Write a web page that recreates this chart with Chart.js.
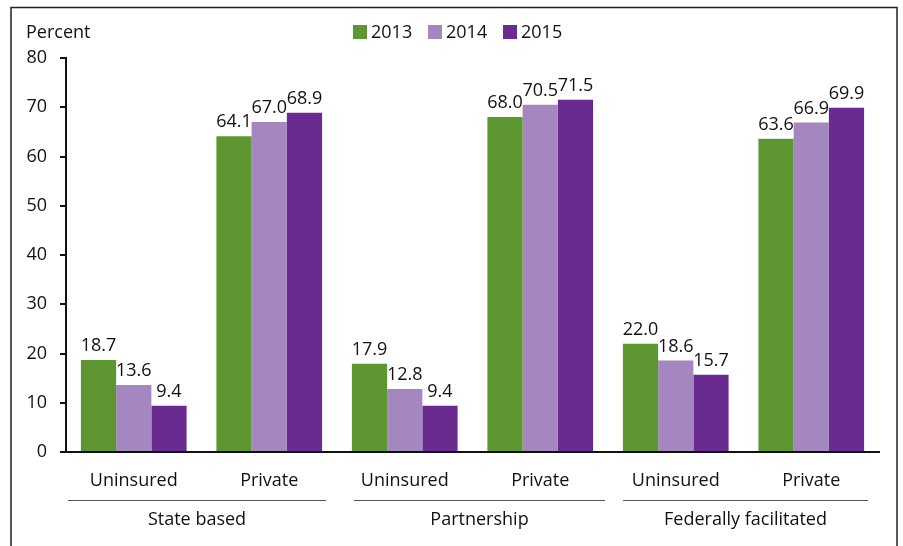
<!DOCTYPE html>
<html>
<head>
<meta charset="utf-8">
<script src="https://cdn.jsdelivr.net/npm/chart.js@4.4.1/dist/chart.umd.min.js"></script>
<style>
html,body{margin:0;padding:0;background:#fff;}
#wrap{position:relative;width:903px;height:546px;}
</style>
</head>
<body>
<div id="wrap"><canvas id="c" width="903" height="546"></canvas></div>
<script>
const categories = ["Uninsured", "Private", "Uninsured", "Private", "Uninsured", "Private"];
const groups = ["State based", "Partnership", "Federally facilitated"];
const seriesNames = ["2013", "2014", "2015"];
const values2013 = [18.7, 64.1, 17.9, 68.0, 22.0, 63.6];
const values2014 = [13.6, 67.0, 12.8, 70.5, 18.6, 66.9];
const values2015 = [9.4, 68.9, 9.4, 71.5, 15.7, 69.9];
const yTicks = [0, 10, 20, 30, 40, 50, 60, 70, 80];
const colors = ["#5E9732", "#A487BF", "#6A2B91"];

const FONT = "'Open Sans', 'DejaVu Sans', sans-serif";
const TXT = "#111";

const framePlugin = {
  id: "frame",
  beforeDraw(chart) {
    const ctx = chart.ctx;
    ctx.save();
    ctx.fillStyle = "#fff";
    ctx.fillRect(0, 0, chart.width, chart.height);
    ctx.strokeStyle = "#222";
    ctx.lineWidth = 1.5;
    ctx.strokeRect(11, 7.5, 886, 560);
    ctx.restore();
  }
};

const groupInsetL = [2, 17, 15];
const groupInsetR = [11, 3, 11];

const decorPlugin = {
  id: "decor",
  afterDraw(chart) {
    const ctx = chart.ctx;
    const x = chart.scales.x;
    ctx.save();
    ctx.font = "18px " + FONT;
    ctx.fillStyle = TXT;
    ctx.textAlign = "left";
    ctx.textBaseline = "middle";
    ctx.fillText("Percent", 26, 33);
    // legend
    let lx = 353;
    chart.data.datasets.forEach((ds) => {
      ctx.fillStyle = ds.backgroundColor;
      ctx.fillRect(lx, 25, 14, 14);
      ctx.fillStyle = TXT;
      ctx.fillText(ds.label, lx + 18, 33);
      lx += 75;
    });
    // data labels
    ctx.textAlign = "center";
    ctx.textBaseline = "bottom";
    chart.data.datasets.forEach((ds, i) => {
      const meta = chart.getDatasetMeta(i);
      meta.data.forEach((bar, j) => {
        ctx.fillText(ds.data[j].toFixed(1), bar.x, bar.y - 5);
      });
    });
    // group lines and labels
    const step = x.getPixelForValue(1) - x.getPixelForValue(0);
    groups.forEach((g, k) => {
      const left = x.getPixelForValue(2 * k) - step / 2;
      const right = x.getPixelForValue(2 * k + 1) + step / 2;
      ctx.strokeStyle = "#555";
      ctx.lineWidth = 1;
      ctx.beginPath();
      ctx.moveTo(left + groupInsetL[k], 500.5);
      ctx.lineTo(right - groupInsetR[k], 500.5);
      ctx.stroke();
      ctx.fillStyle = TXT;
      ctx.textBaseline = "middle";
      ctx.fillText(g, (left + groupInsetL[k] + right - groupInsetR[k]) / 2, 520);
    });
    ctx.restore();
  }
};

new Chart(document.getElementById("c"), {
  type: "bar",
  data: {
    labels: categories,
    datasets: [
      { label: seriesNames[0], data: values2013, backgroundColor: colors[0] },
      { label: seriesNames[1], data: values2014, backgroundColor: colors[1] },
      { label: seriesNames[2], data: values2015, backgroundColor: colors[2] }
    ]
  },
  options: {
    responsive: false,
    animation: false,
    devicePixelRatio: 1,
    layout: { padding: { top: 58, right: 24, bottom: 0, left: 0 } },
    datasets: { bar: { categoryPercentage: 0.78, barPercentage: 1.0, borderWidth: 0 } },
    plugins: { legend: { display: false }, tooltip: { enabled: false } },
    scales: {
      x: {
        grid: { display: false, drawTicks: false },
        border: { display: true, color: "#111", width: 2 },
        ticks: { color: TXT, font: { family: FONT, size: 18 }, padding: 18, maxRotation: 0 },
        afterFit(s) { s.height = 94; }
      },
      y: {
        min: 0, max: 80,
        afterBuildTicks(s) { s.ticks = yTicks.map(v => ({ value: v })); },
        grid: { drawOnChartArea: false, drawTicks: true, tickLength: 6, color: "#111", lineWidth: 2 },
        border: { display: true, color: "#111", width: 2 },
        ticks: { color: TXT, font: { family: FONT, size: 18 }, padding: 13 },
        afterFit(s) { s.width = 66; }
      }
    }
  },
  plugins: [framePlugin, decorPlugin]
});
</script>
</body>
</html>
